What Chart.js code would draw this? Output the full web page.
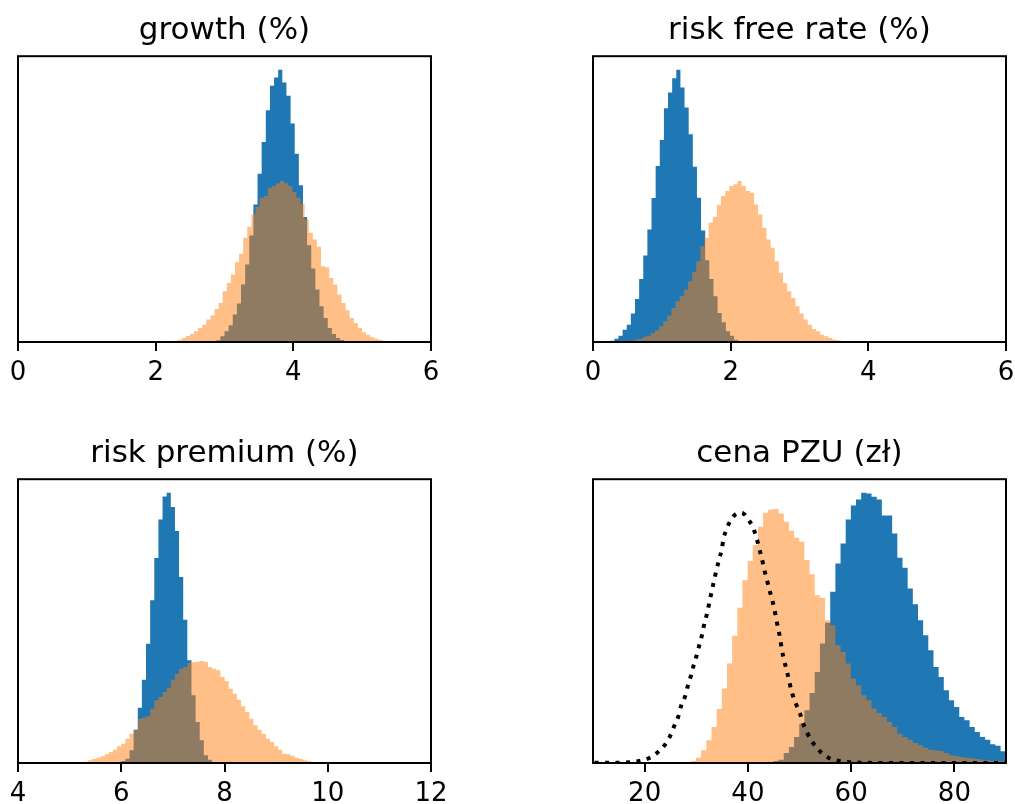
<!DOCTYPE html>
<html>
<head>
<meta charset="utf-8">
<script src="https://cdn.jsdelivr.net/npm/chart.js@4.4.1/dist/chart.umd.min.js"></script>
<style>
  body { margin: 0; background: #fff; width: 1015px; height: 804px; overflow: hidden; position: relative; }
  .panel { position: absolute; height: 381px; }
  .left { left: 0; width: 480px; }
  .right { left: 575px; width: 440px; }
</style>
</head>
<body>
<div class="panel left" style="top:0"><canvas id="growth"></canvas></div>
<div class="panel right" style="top:0"><canvas id="riskFree"></canvas></div>
<div class="panel left" style="top:423px"><canvas id="riskPremium"></canvas></div>
<div class="panel right" style="top:423px"><canvas id="pzu"></canvas></div>
<script>
// titles and x axes
const panelTitles = ['growth (%)', 'risk free rate (%)', 'risk premium (%)', 'cena PZU (zł)'];
const growthTicks = [0, 2, 4, 6];
const riskFreeTicks = [0, 2, 4, 6];
const riskPremiumTicks = [4, 6, 8, 10, 12];
const pzuTicks = [20, 40, 60, 80];

// histogram counts (arbitrary units), first bin edge and bin width
const growthBlueStart = 2.82, growthBlueWidth = 0.06;
const growthBlue = [2, 5, 17, 32, 50, 82, 115, 172, 232, 319, 412, 504, 599, 694, 767, 792, 815, 777, 737, 654, 564, 469, 374, 290, 220, 157, 107, 72, 42, 24, 12, 6, 2];
const growthOrangeStart = 2.26, growthOrangeWidth = 0.0595;
const growthOrange = [4, 7, 12, 18, 24, 32, 42, 52, 67, 79, 99, 117, 152, 177, 202, 239, 264, 312, 345, 382, 405, 432, 437, 462, 467, 475, 482, 475, 467, 449, 432, 414, 367, 327, 307, 285, 227, 224, 192, 172, 142, 117, 95, 72, 57, 42, 29, 22, 14, 10, 7, 4, 2];

const riskFreeBlueStart = 0.25, riskFreeBlueWidth = 0.06;
const riskFreeBlue = [4, 10, 19, 37, 52, 85, 129, 189, 259, 337, 431, 527, 605, 700, 747, 790, 815, 762, 702, 622, 525, 432, 334, 245, 189, 137, 87, 59, 32, 19, 7, 2];
const riskFreeOrangeStart = 0.54, riskFreeOrangeWidth = 0.06;
const riskFreeOrange = [4, 7, 10, 15, 19, 27, 35, 47, 62, 79, 102, 122, 137, 157, 182, 210, 242, 287, 312, 357, 375, 410, 437, 452, 467, 472, 482, 467, 452, 447, 412, 382, 342, 307, 282, 242, 207, 177, 152, 132, 107, 85, 67, 52, 39, 32, 22, 17, 12, 7, 5, 2];

const riskPremiumBlueStart = 5.92, riskPremiumBlueWidth = 0.08;
const riskPremiumBlue = [2, 6, 13, 38, 100, 166, 250, 358, 488, 615, 731, 800, 811, 768, 696, 558, 430, 308, 203, 123, 68, 23, 10, 3];
const riskPremiumOrangeStart = 5.2, riskPremiumOrangeWidth = 0.08;
const riskPremiumOrange = [2, 4, 8, 12, 16, 20, 26, 33, 40, 50, 58, 73, 88, 98, 133, 136, 140, 163, 188, 198, 213, 226, 250, 268, 283, 288, 300, 302, 304, 306, 303, 288, 283, 278, 258, 246, 223, 208, 190, 170, 153, 133, 113, 100, 88, 73, 63, 50, 40, 28, 26, 22, 16, 12, 8, 5, 2];

const pzuBlueStart = 44.95, pzuBlueWidth = 1;
const pzuBlue = [6, 10, 30, 48, 78, 118, 158, 210, 273, 358, 420, 513, 598, 658, 730, 772, 790, 810, 808, 798, 790, 742, 742, 688, 615, 585, 523, 476, 428, 383, 338, 288, 258, 218, 188, 168, 138, 128, 108, 93, 78, 70, 56, 52, 35, 30];
const pzuOrangeStart = 28.95, pzuOrangeWidth = 1;
const pzuOrange = [6, 16, 38, 68, 108, 162, 223, 298, 381, 465, 548, 605, 653, 708, 750, 760, 761, 748, 723, 696, 675, 663, 608, 566, 503, 495, 428, 413, 353, 333, 298, 253, 233, 203, 188, 163, 150, 138, 123, 108, 88, 78, 70, 60, 53, 46, 40, 38, 36, 30, 23, 21, 18, 16, 14, 12, 10, 8, 7, 6, 5, 4];

// dotted reference curve on the PZU panel
const pzuCurveX = [10.3, 15.2, 17.1, 19.0, 21.0, 22.6, 24.1, 25.0, 25.8, 26.5, 27.1, 27.8, 28.4, 29.0, 29.5, 30.0, 30.5, 31.1, 31.5, 32.0, 32.5, 32.9, 33.4, 33.9, 34.4, 34.9, 35.3, 35.8, 36.7, 37.6, 38.4, 39.1, 40.0, 41.0, 41.7, 42.2, 42.7, 43.2, 43.7, 44.2, 44.8, 45.3, 45.8, 46.2, 46.6, 47.1, 47.6, 48.1, 48.6, 49.3, 50.1, 50.7, 51.4, 52.3, 53.3, 54.3, 55.6, 57.2, 59.1, 61.7, 70, 90];
const pzuCurveY = [0.5, 1, 2, 6, 16, 33, 58, 83, 113, 138, 173, 198, 233, 263, 293, 318, 348, 383, 413, 443, 478, 508, 543, 578, 608, 638, 673, 698, 728, 745, 750, 748, 731, 706, 673, 643, 613, 578, 548, 518, 483, 448, 408, 378, 338, 303, 273, 238, 208, 178, 148, 118, 93, 68, 46, 30, 16, 8, 3, 1, 0, 0];

const blue = '#1f77b4';
const orange = 'rgba(255, 127, 14, 0.5)';

Chart.defaults.font.family = "'DejaVu Sans', sans-serif";
Chart.defaults.color = '#000';

// turn bin counts into step points (left edge of every bin + closing edge)
function histPoints(start, width, counts) {
  const pts = counts.map((c, i) => ({ x: start + i * width, y: c }));
  pts.push({ x: start + counts.length * width, y: 0 });
  return pts;
}

function histDataset(start, width, counts, color, order) {
  return {
    data: histPoints(start, width, counts),
    stepped: 'before',
    fill: 'origin',
    backgroundColor: color,
    borderColor: 'transparent',
    borderWidth: 0,
    pointRadius: 0,
    order: order
  };
}

// axes frame (matplotlib spines)
const frame = {
  id: 'frame',
  afterDraw(chart) {
    const { ctx, chartArea: a } = chart;
    ctx.save();
    ctx.strokeStyle = '#000';
    ctx.lineWidth = 2;
    ctx.strokeRect(a.left, a.top, a.right - a.left, a.bottom - a.top);
    ctx.restore();
  }
};

function makePanel(id, title, xMin, xMax, ticks, datasets, padRight, padBottom) {
  const yMax = Math.max(...datasets.flatMap(d => d.data.map(p => p.y))) * 1.05;
  return new Chart(document.getElementById(id), {
    type: 'line',
    data: { datasets: datasets },
    options: {
      responsive: true,
      maintainAspectRatio: false,
      animation: false,
      layout: { padding: { left: 18, right: padRight, top: 0, bottom: padBottom } },
      plugins: {
        legend: { display: false },
        tooltip: { enabled: false },
        title: {
          display: true,
          text: title,
          color: '#000',
          font: { size: 31, weight: 'normal' },
          padding: { top: 12, bottom: 7 }
        }
      },
      scales: {
        x: {
          type: 'linear',
          min: xMin,
          max: xMax,
          afterBuildTicks: s => { s.ticks = ticks.map(v => ({ value: v })); },
          afterFit: s => { s.height = 39; s.paddingLeft = 0; s.paddingRight = 0; },
          grid: { display: true, drawOnChartArea: false, drawTicks: true, tickLength: 9, color: '#000', lineWidth: 2 },
          border: { display: true, color: '#000', width: 2 },
          ticks: { color: '#000', font: { size: 26 }, padding: 7, autoSkip: false, maxRotation: 0 }
        },
        y: { display: false, min: 0, max: yMax }
      }
    },
    plugins: [frame]
  });
}

makePanel('growth', panelTitles[0], 0, 6, growthTicks, [
  histDataset(growthBlueStart, growthBlueWidth, growthBlue, blue, 2),
  histDataset(growthOrangeStart, growthOrangeWidth, growthOrange, orange, 1)
], 49, 0);

makePanel('riskFree', panelTitles[1], 0, 6, riskFreeTicks, [
  histDataset(riskFreeBlueStart, riskFreeBlueWidth, riskFreeBlue, blue, 2),
  histDataset(riskFreeOrangeStart, riskFreeOrangeWidth, riskFreeOrange, orange, 1)
], 9, 0);

makePanel('riskPremium', panelTitles[2], 4, 12, riskPremiumTicks, [
  histDataset(riskPremiumBlueStart, riskPremiumBlueWidth, riskPremiumBlue, blue, 2),
  histDataset(riskPremiumOrangeStart, riskPremiumOrangeWidth, riskPremiumOrange, orange, 1)
], 49, 2);

makePanel('pzu', panelTitles[3], 10, 90, pzuTicks, [
  histDataset(pzuBlueStart, pzuBlueWidth, pzuBlue, blue, 2),
  histDataset(pzuOrangeStart, pzuOrangeWidth, pzuOrange, orange, 1),
  {
    data: pzuCurveX.map((x, i) => ({ x: x, y: pzuCurveY[i] })),
    borderColor: '#000',
    borderWidth: 4,
    borderDash: [4, 6.5],
    cubicInterpolationMode: 'monotone',
    pointRadius: 0,
    fill: false,
    order: 0
  }
], 9, 2);
</script>
</body>
</html>
